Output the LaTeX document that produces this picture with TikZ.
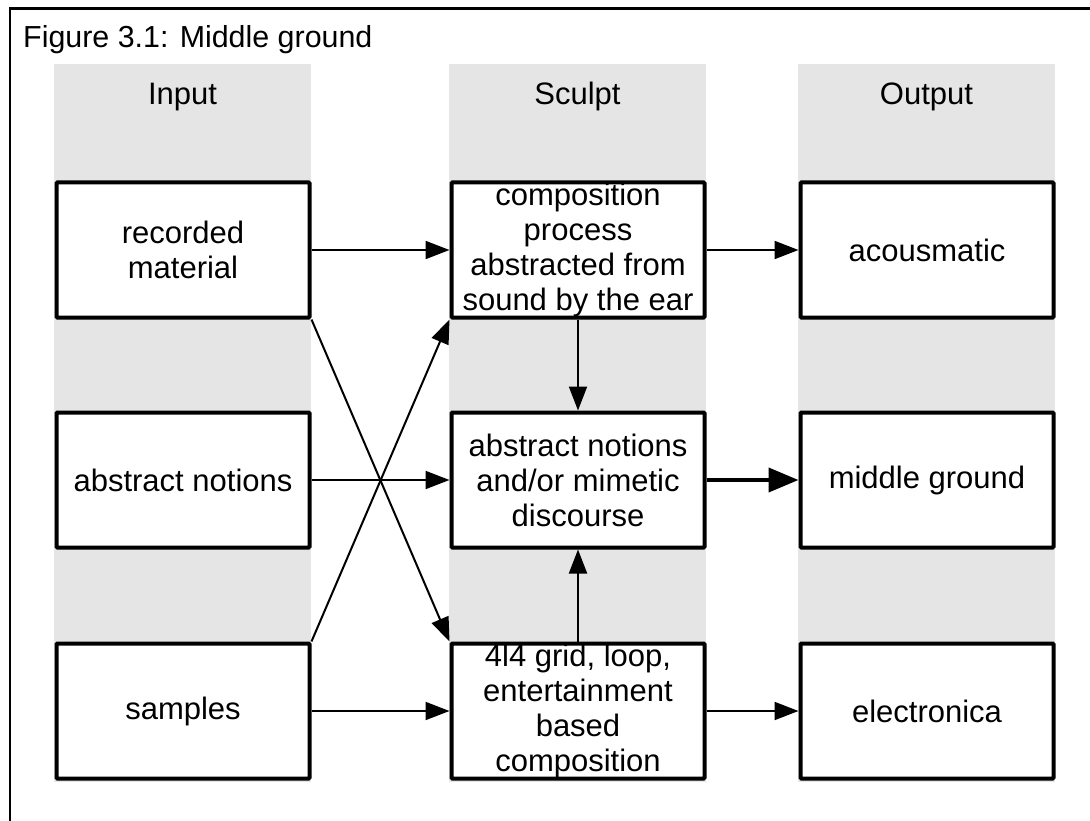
\documentclass[tikz,border=0pt]{standalone}
\usepackage{fontspec}
\setmainfont{Liberation Sans}
\usetikzlibrary{arrows.meta}
\definecolor{colgray}{HTML}{E5E5E5}
\tikzset{
  box/.style={draw=black, line width=4pt, fill=white, minimum width=253pt, minimum height=135pt,
    inner sep=0pt, align=center, font=\fontsize{31}{35}\selectfont, rounded corners=1pt},
  head/.style={font=\fontsize{31}{35}\selectfont, anchor=base},
  conn/.style={draw=black, line width=2pt, -{Triangle[length=24pt,width=18pt]}},
  thickconn/.style={draw=black, line width=4pt, -{Triangle[length=30pt,width=24pt]}},
  frameline/.style={draw=black, line width=2.5pt}
}
\begin{document}
\begin{tikzpicture}[x=1pt,y=-1pt]
\useasboundingbox (0,0) rectangle (1090,821);
% frame (only left and top edges visible)
\draw[frameline] (10,830) -- (10,8.5) -- (1100,8.5);
\node[font=\fontsize{30.4}{35}\selectfont, anchor=base west, inner sep=0pt] (title) at (23,48) {Figure 3.1: Middle ground};
% gray columns
\fill[colgray] (54,64) rectangle (311,782);
\fill[colgray] (449,64) rectangle (706,782);
\fill[colgray] (798,64) rectangle (1055,782);
\node[head] (hin) at (182.5,105) {Input};
\node[head] (hsc) at (577.5,105) {Sculpt};
\node[head] (hout) at (926.5,105) {Output};
% boxes
\node[box] (rec) at (183,250) {recorded\\material};
\node[box] (abs) at (183,480) {abstract notions};
\node[box] (smp) at (183,711) {samples};
\node[box] (comp) at (578,250) {composition\\process\\abstracted from\\sound by the ear};
\node[box] (mid) at (578,480) {abstract notions\\and/or mimetic\\discourse};
\node[box] (grid) at (578,711) {4l4 grid, loop,\\entertainment\\based\\composition};
\node[box] (aco) at (927,250) {acousmatic};
\node[box] (mg) at (927,480) {middle ground};
\node[box] (ele) at (927,711) {electronica};
% connectors
\draw[conn] (rec) -- (comp);
\draw[conn] (comp) -- (aco);
\draw[conn] (abs) -- (mid);
\draw[thickconn] (mid) -- (mg);
\draw[conn] (smp) -- (grid);
\draw[conn] (grid) -- (ele);
\draw[conn] (comp.south) -- (mid.north);
\draw[conn] (grid.north) -- (mid.south);
\draw[conn] (rec.south east) -- (grid.north west);
\draw[conn] (smp.north east) -- (comp.south west);
\end{tikzpicture}
\end{document}
